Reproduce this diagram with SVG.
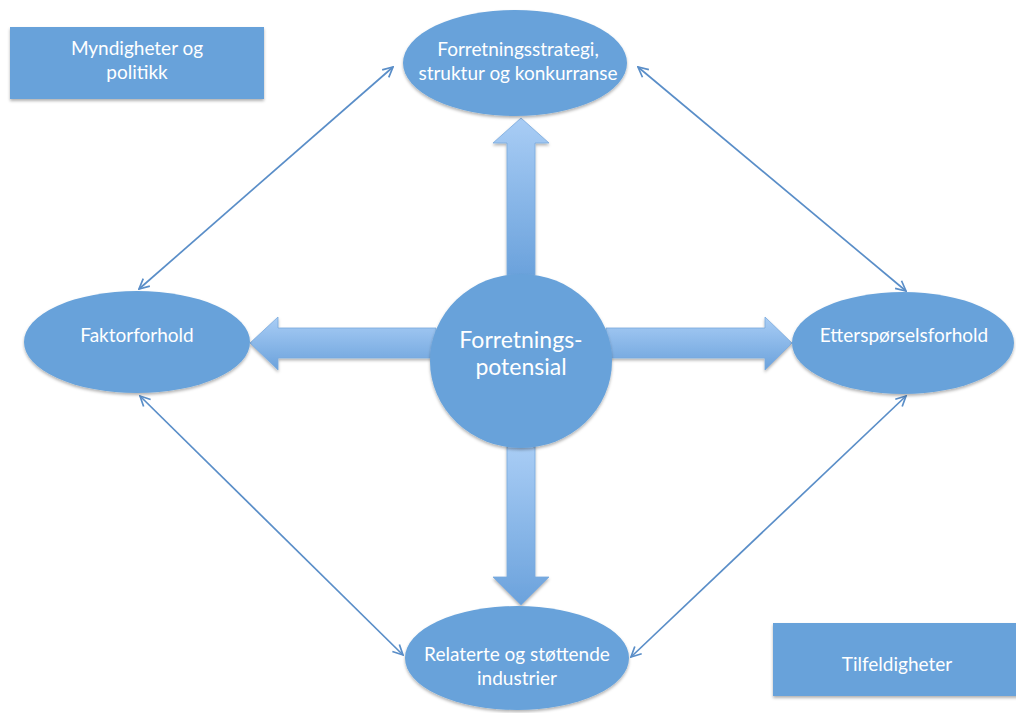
<svg xmlns="http://www.w3.org/2000/svg" width="1016" height="713" viewBox="0 0 1016 713">
<style>
.shape{fill:#67a2da;filter:url(#sh)}
.t{fill:#ffffff;font-family:Lato,"Open Sans","Liberation Sans",sans-serif;font-size:19px;text-anchor:middle}
.big{font-size:23px}
.conn{stroke:#5a8ec8;stroke-width:1.7;fill:none;marker-start:url(#ah);marker-end:url(#ah)}
.blk{stroke:#7aa9dd;stroke-width:0.8;filter:url(#sh)}
</style>
<defs>
<filter id="sh" x="-10%" y="-10%" width="120%" height="130%">
<feDropShadow dx="0" dy="2" stdDeviation="1.5" flood-color="#000" flood-opacity="0.3"/>
</filter>
<marker id="ah" viewBox="0 0 12 12" refX="11" refY="6" markerWidth="12" markerHeight="12" markerUnits="userSpaceOnUse" orient="auto-start-reverse">
<polyline points="1,1 11,6 1,11" fill="none" stroke="#5a8ec8" stroke-width="1.7"/>
</marker>
<linearGradient id="gv" x1="0" y1="0" x2="0" y2="1">
<stop offset="0" stop-color="#a9cdf5"/>
<stop offset="1" stop-color="#6ba2dc"/>
</linearGradient>
</defs>

<g id="connectors">
<line class="conn" x1="393" y1="67" x2="139" y2="289"/>
<line class="conn" x1="638" y1="67" x2="906" y2="291"/>
<line class="conn" x1="140" y1="396" x2="403" y2="655"/>
<line class="conn" x1="906" y1="396" x2="631" y2="657"/>
<path class="blk" fill="url(#gv)" d="M507,275 L507,143 L493,143 L521,118 L549,143 L535,143 L535,275 Z"/>
<path class="blk" fill="url(#gv)" d="M507,445 L507,577 L493,577 L521,605 L549,577 L535,577 L535,445 Z"/>
<path class="blk" fill="url(#gv)" d="M436,328 L278,328 L278,317 L250,343 L278,370 L278,358 L436,358 Z"/>
<path class="blk" fill="url(#gv)" d="M606,328 L765,328 L765,317 L792,343 L765,370 L765,358 L606,358 Z"/>
</g>

<g id="myndigheter">
<rect class="shape" x="10" y="27" width="254" height="72"/>
<text class="t" x="137" y="55">Myndigheter og</text>
<text class="t" x="137" y="79">politikk</text>
</g>

<g id="strategi">
<ellipse class="shape" cx="515" cy="63" rx="112" ry="53"/>
<text class="t" x="518" y="56">Forretningsstrategi,</text>
<text class="t" x="518" y="80">struktur og konkurranse</text>
</g>

<g id="faktor">
<ellipse class="shape" cx="137" cy="342" rx="113" ry="51"/>
<text class="t" x="137" y="342">Faktorforhold</text>
</g>

<g id="ettersporsel">
<ellipse class="shape" cx="903" cy="343" rx="111" ry="51"/>
<text class="t" x="904" y="342">Etterspørselsforhold</text>
</g>

<g id="potensial">
<ellipse class="shape" cx="521" cy="361" rx="91" ry="87"/>
<text class="t big" x="521" y="348">Forretnings-</text>
<text class="t big" x="521" y="375">potensial</text>
</g>

<g id="relaterte">
<ellipse class="shape" cx="517" cy="658" rx="112" ry="52"/>
<text class="t" x="517" y="661">Relaterte og støttende</text>
<text class="t" x="517" y="685">industrier</text>
</g>

<g id="tilfeldigheter">
<rect class="shape" x="773" y="623" width="250" height="73"/>
<text class="t" x="897" y="671">Tilfeldigheter</text>
</g>
</svg>
